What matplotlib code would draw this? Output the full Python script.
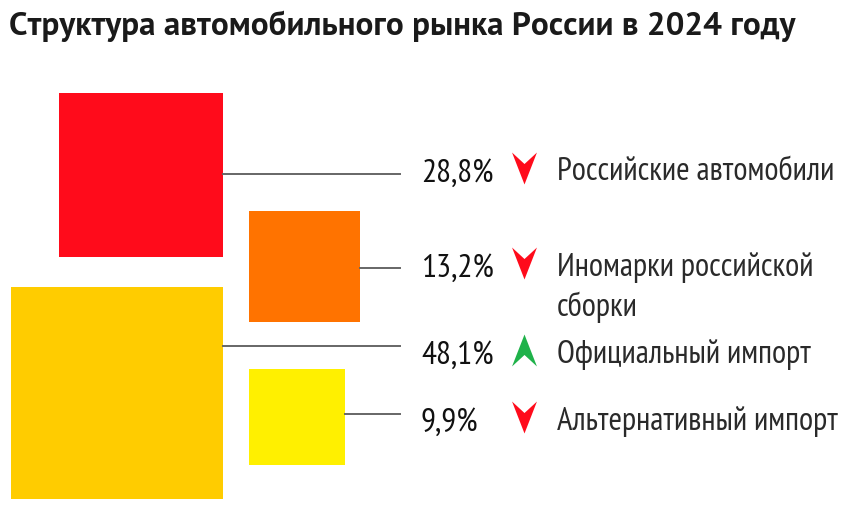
import numpy as np
import matplotlib
matplotlib.use('Agg')
import matplotlib.pyplot as plt
from matplotlib.patches import Rectangle
from matplotlib.path import Path

title = 'Структура автомобильного рынка России в 2024 году'
categories = ['Российские автомобили', 'Иномарки российской\nсборки',
              'Официальный импорт', 'Альтернативный импорт']
shares = [28.8, 13.2, 48.1, 9.9]
trend = ['down', 'down', 'up', 'down']

colors = ['#FF0B1B', '#FF7300', '#FFCC00', '#FFF000']
arrow_colors = {'down': '#FF0B1B', 'up': '#1FB24A'}

# layout (pixels, origin top-left)
px_per_sqrt = 30.6
anchor_x = [223, 249, 223, 249]         # right edge for big ones, left edge for small
anchor_side = ['right', 'left', 'right', 'left']
top_y = [93, 211, 287, 369]
line_y = [174, 268, 346, 414]
text_y = [170, 265, 352, 419]
line_end = 400
pct_x = 421
arrow_x = 524
label_x = 557

narrow = ['PT Sans Narrow', 'Roboto Condensed', 'DejaVu Sans']
plt.rcParams['font.family'] = narrow

fig = plt.figure(figsize=(8.5, 5.16), dpi=100)
ax = fig.add_axes([0, 0, 1, 1])
ax.set_xlim(0, 850)
ax.set_ylim(516, 0)
ax.axis('off')

ax.text(9, 35, title, fontsize=23.9, fontweight='bold', color='#1a1a1a',
        va='baseline', ha='left', family=['PT Sans', 'Roboto', 'DejaVu Sans'])

down = Path([(-0.39, 0.5), (0, 0.14), (0.39, 0.5), (0, -0.5), (-0.39, 0.5)],
            [Path.MOVETO, Path.LINETO, Path.LINETO, Path.LINETO, Path.CLOSEPOLY])
up = Path([(-0.39, -0.5), (0, -0.14), (0.39, -0.5), (0, 0.5), (-0.39, -0.5)],
          [Path.MOVETO, Path.LINETO, Path.LINETO, Path.LINETO, Path.CLOSEPOLY])

for i, v in enumerate(shares):
    side = px_per_sqrt * np.sqrt(v)
    x0 = anchor_x[i] - side if anchor_side[i] == 'right' else anchor_x[i]
    ax.add_patch(Rectangle((x0, top_y[i]), side, side, color=colors[i], lw=0))
    ax.plot([x0 + side, line_end], [line_y[i], line_y[i]], color='#666666', lw=1.4)
    ax.text(pct_x, text_y[i], f'{v:.1f}%'.replace('.', ','), fontsize=24,
            color='#111111', va='center_baseline', ha='left')
    ax.plot(arrow_x, text_y[i] - 2, marker=down if trend[i] == 'down' else up,
            markersize=23, color=arrow_colors[trend[i]], mew=0)
    for j, line in enumerate(categories[i].split('\n')):
        ax.text(label_x, text_y[i] - 1 + j * 40, line, fontsize=23.4, color='#2a2a2a',
                va='center_baseline', ha='left')

fig.savefig('out.png', dpi=100, facecolor='white')
